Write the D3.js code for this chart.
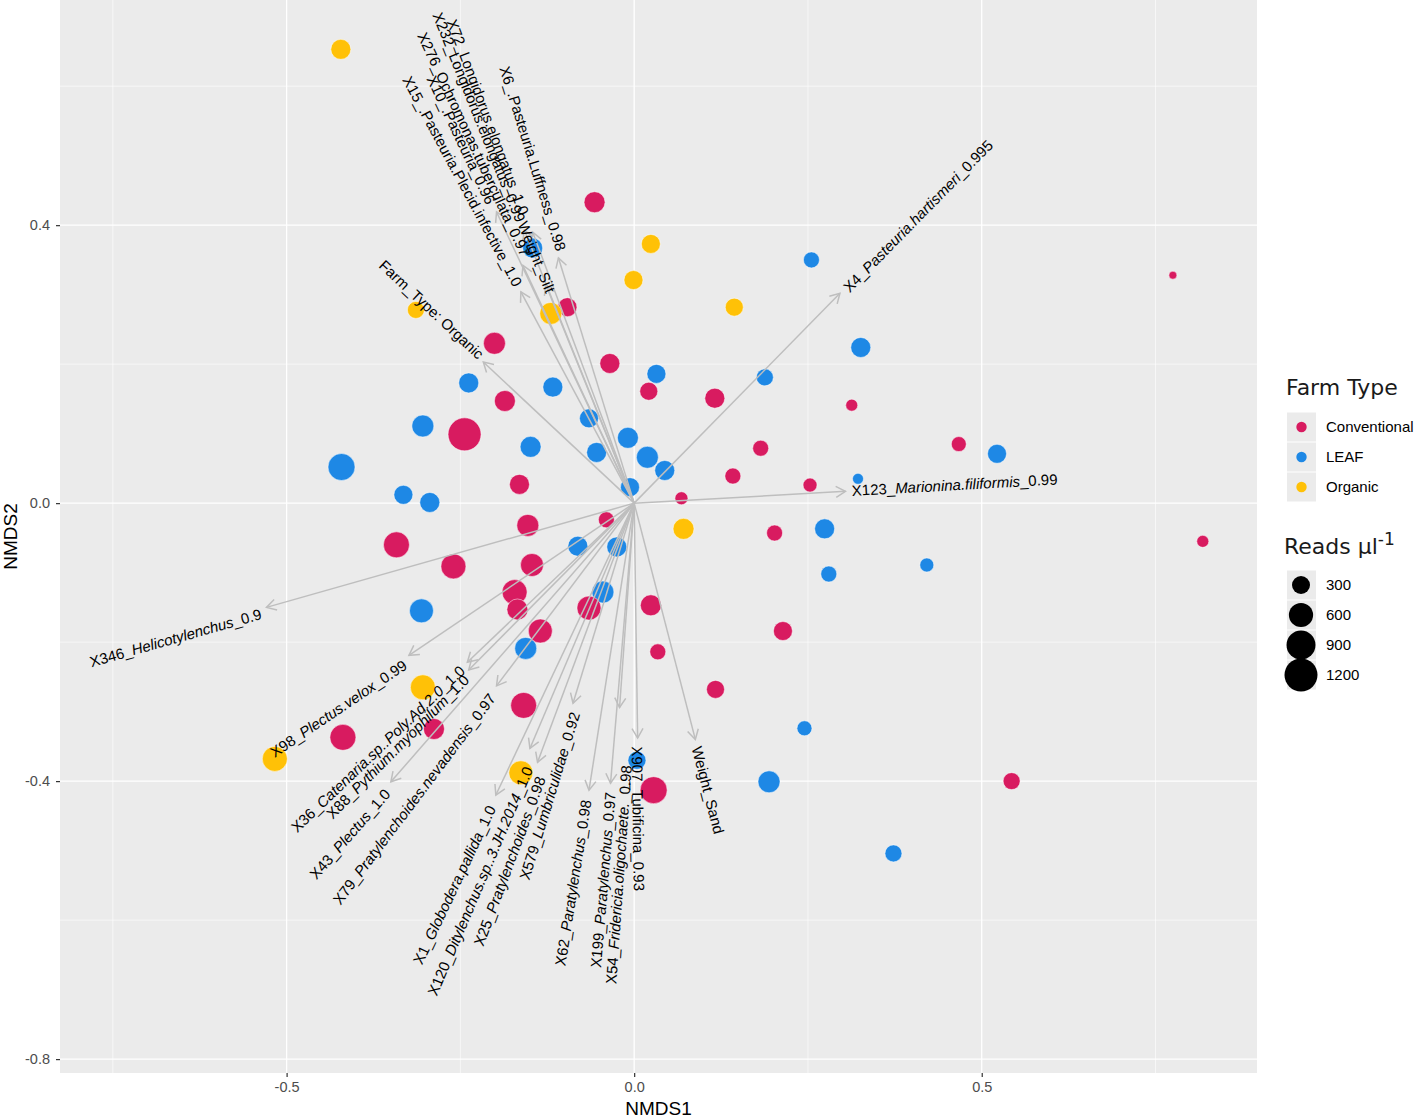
<!DOCTYPE html>
<html>
<head>
<meta charset="utf-8">
<script src="https://cdn.jsdelivr.net/npm/d3@7"></script>
<style>
  body { margin: 0; background: #fff; }
  svg { display: block; }
</style>
</head>
<body>
<div id="chart"></div>
<script>
// NMDS site scores, one set of arrays per farm type
const conventionalX = [-0.057, -0.096, -0.201, -0.035, 0.021, -0.186, 0.116, -0.244, -0.165, 0.182, 0.142, 0.313, 0.467, 0.775, 0.253, 0.068, -0.040, -0.153, 0.202, -0.342, -0.147, -0.260, -0.172, -0.168, -0.065, -0.135, 0.024, 0.214, 0.034, -0.159, 0.117, -0.419, -0.288, 0.028, 0.543, 0.818];
const conventionalY = [0.433, 0.282, 0.230, 0.201, 0.161, 0.147, 0.151, 0.099, 0.027, 0.079, 0.039, 0.141, 0.085, 0.328, 0.026, 0.007, -0.024, -0.032, -0.043, -0.060, -0.089, -0.091, -0.128, -0.153, -0.151, -0.184, -0.147, -0.184, -0.214, -0.291, -0.268, -0.337, -0.325, -0.413, -0.400, -0.055];
const conventionalReads = [432, 341, 481, 385, 300, 432, 385, 1200, 385, 225, 225, 108, 192, 33, 161, 133, 225, 481, 225, 705, 533, 645, 645, 432, 588, 588, 432, 341, 225, 705, 300, 705, 432, 768, 261, 108];

const leafX = [-0.146, 0.255, 0.326, -0.238, -0.117, 0.032, 0.188, -0.065, -0.009, -0.304, -0.421, -0.149, -0.054, 0.019, 0.044, -0.006, -0.332, -0.294, 0.522, 0.322, 0.274, -0.081, -0.025, 0.280, 0.421, -0.045, -0.306, -0.156, 0.245, 0.004, 0.194, 0.373];
const leafY = [0.367, 0.350, 0.224, 0.173, 0.167, 0.186, 0.181, 0.122, 0.094, 0.111, 0.052, 0.081, 0.073, 0.066, 0.047, 0.023, 0.012, 0.001, 0.071, 0.035, -0.037, -0.062, -0.063, -0.102, -0.089, -0.128, -0.155, -0.209, -0.324, -0.370, -0.401, -0.504];
const leafReads = [385, 225, 385, 385, 385, 341, 261, 341, 432, 481, 768, 432, 385, 481, 385, 341, 341, 385, 341, 85, 385, 385, 385, 225, 161, 481, 588, 481, 192, 300, 481, 261];

const organicX = [-0.422, 0.024, -0.001, 0.144, -0.314, -0.120, 0.071, -0.304, -0.517, -0.163];
const organicY = [0.653, 0.373, 0.321, 0.282, 0.278, 0.273, -0.037, -0.265, -0.368, -0.388];
const organicReads = [385, 341, 341, 300, 261, 481, 432, 645, 645, 588];

// fitted vectors (envfit) and where their labels sit
const vectorNames = [
  "X6_.Pasteuria.Luffness_0.98", "X72_Longidorus.elongatus_1.0", "X232_Longidorus.elongatus_0.99",
  "X276_Ochromonas.tuberculata_0.97", "X10_.Pasteuria_0.96", "X15_.Pasteuria.Plecid.infective_1.0",
  "Weight_Silt", "Farm_Type: Organic", "X4_Pasteuria.hartismeri_0.995", "X123_Marionina.filiformis_0.99",
  "X346_Helicotylenchus_0.9", "X98_Plectus.velox_0.99", "X36_Catenaria.sp..Poly.Ad.2.0_1.0",
  "X88_Pythium.myophilum_1.0", "X43_Plectus_1.0", "X79_Pratylenchoides.nevadensis_0.97",
  "X1_Globodera.pallida_1.0", "X120_Ditylenchus.sp..3.JH.2014_1.0", "X25_Pratylenchoides_0.98",
  "X579_Lumbriculidae_0.92", "X62_Paratylenchus_0.98", "X199_Paratylenchus_0.97",
  "X54_Fridericia.oligochaete._0.98", "X907_Tubificina_0.93", "Weight_Sand"
];
const vectorX = [-0.109, -0.146, -0.158, -0.160, -0.198, -0.163, -0.127, -0.217, 0.296, 0.304, -0.529, -0.324, -0.240, -0.238, -0.350, -0.198, -0.199, -0.150, -0.139, -0.088, -0.065, -0.034, -0.021, 0.005, 0.088];
const vectorY = [0.353, 0.390, 0.393, 0.342, 0.419, 0.304, 0.314, 0.203, 0.302, 0.017, -0.150, -0.219, -0.229, -0.240, -0.401, -0.263, -0.420, -0.353, -0.373, -0.288, -0.413, -0.403, -0.294, -0.338, -0.340];
const labelX = [-0.104, -0.157, -0.162, -0.155, -0.205, -0.166, -0.119, -0.219, 0.304, 0.313, -0.537, -0.330, -0.248, -0.242, -0.356, -0.205, -0.206, -0.153, -0.135, -0.086, -0.070, -0.035, -0.012, 0.005, 0.091];
const labelY = [0.364, 0.416, 0.406, 0.357, 0.432, 0.314, 0.304, 0.212, 0.308, 0.019, -0.158, -0.230, -0.237, -0.250, -0.414, -0.276, -0.436, -0.380, -0.394, -0.301, -0.427, -0.416, -0.377, -0.350, -0.350];

const italicNames = ["X4_Pasteuria.hartismeri_0.995", "X123_Marionina.filiformis_0.99", "X346_Helicotylenchus_0.9",
  "X98_Plectus.velox_0.99", "X36_Catenaria.sp..Poly.Ad.2.0_1.0", "X88_Pythium.myophilum_1.0", "X43_Plectus_1.0",
  "X79_Pratylenchoides.nevadensis_0.97", "X1_Globodera.pallida_1.0", "X120_Ditylenchus.sp..3.JH.2014_1.0",
  "X25_Pratylenchoides_0.98", "X579_Lumbriculidae_0.92", "X62_Paratylenchus_0.98", "X199_Paratylenchus_0.97",
  "X54_Fridericia.oligochaete._0.98"];

const xTicks = [-0.5, 0, 0.5];
const yTicks = [-0.8, -0.4, 0, 0.4];
const xMinor = [-0.75, -0.25, 0.25, 0.75];
const yMinor = [-0.6, -0.2, 0.2, 0.6];
const farmTypes = ["Conventional", "LEAF", "Organic"];
const readsBreaks = [300, 600, 900, 1200];

const colors = { Conventional: "#D81B60", LEAF: "#1E88E5", Organic: "#FFC107" };

const W = 1417, H = 1120;
const panel = { left: 60, right: 1257, top: 0, bottom: 1073 };

const svg = d3.select("#chart").append("svg")
  .attr("width", W)
  .attr("height", H)
  .style("font-family", "'Liberation Sans', Arial, sans-serif");

const x = d3.scaleLinear().domain([-0.826, 0.896]).range([panel.left, panel.right]);
const y = d3.scaleLinear().domain([-0.820, 0.724]).range([panel.bottom, panel.top]);
const r = d3.scaleSqrt().domain([0, 1200]).range([1.5, 16.5]);

// panel background and grid
svg.append("rect")
  .attr("x", panel.left).attr("y", panel.top)
  .attr("width", panel.right - panel.left).attr("height", panel.bottom - panel.top)
  .attr("fill", "#EBEBEB");

const grid = svg.append("g");
grid.selectAll("line.xminor").data(xMinor).enter().append("line")
  .attr("x1", d => x(d)).attr("x2", d => x(d)).attr("y1", panel.top).attr("y2", panel.bottom)
  .attr("stroke", "#fff").attr("stroke-width", 0.6);
grid.selectAll("line.yminor").data(yMinor).enter().append("line")
  .attr("y1", d => y(d)).attr("y2", d => y(d)).attr("x1", panel.left).attr("x2", panel.right)
  .attr("stroke", "#fff").attr("stroke-width", 0.6);
grid.selectAll("line.xmajor").data(xTicks).enter().append("line")
  .attr("x1", d => x(d)).attr("x2", d => x(d)).attr("y1", panel.top).attr("y2", panel.bottom)
  .attr("stroke", "#fff").attr("stroke-width", 1.3);
grid.selectAll("line.ymajor").data(yTicks).enter().append("line")
  .attr("y1", d => y(d)).attr("y2", d => y(d)).attr("x1", panel.left).attr("x2", panel.right)
  .attr("stroke", "#fff").attr("stroke-width", 1.3);

// points
function sites(type, xs, ys, reads) {
  return xs.map((v, i) => ({ type: type, x: v, y: ys[i], reads: reads[i] }));
}
const points = [].concat(
  sites("LEAF", leafX, leafY, leafReads),
  sites("Conventional", conventionalX, conventionalY, conventionalReads),
  sites("Organic", organicX, organicY, organicReads)
);

svg.append("g").selectAll("circle")
  .data(points)
  .enter()
  .append("circle")
  .attr("cx", d => x(d.x))
  .attr("cy", d => y(d.y))
  .attr("r", d => r(d.reads))
  .attr("fill", d => colors[d.type])
  .attr("stroke", "#fff")
  .attr("stroke-width", 0.5);

// arrows
const vectors = vectorNames.map((n, i) => ({ name: n, x: vectorX[i], y: vectorY[i], lx: labelX[i], ly: labelY[i] }));
const arrows = svg.append("g")
  .attr("stroke", "#BEBEBE")
  .attr("stroke-width", 1.5)
  .attr("fill", "none");

vectors.forEach(v => {
  const x0 = x(0), y0 = y(0), x1 = x(v.x), y1 = y(v.y);
  const a = Math.atan2(y1 - y0, x1 - x0);
  const len = 11, spread = Math.PI / 6;
  arrows.append("line")
    .attr("x1", x0).attr("y1", y0).attr("x2", x1).attr("y2", y1);
  arrows.append("path")
    .attr("d", `M${x1 - len * Math.cos(a - spread)},${y1 - len * Math.sin(a - spread)}L${x1},${y1}L${x1 - len * Math.cos(a + spread)},${y1 - len * Math.sin(a + spread)}`);
});

// arrow labels
function labelParts(name) {
  if (!italicNames.includes(name)) return [{ t: name, it: false }];
  const i = name.indexOf("_"), j = name.lastIndexOf("_");
  return [{ t: name.slice(0, i + 1), it: false }, { t: name.slice(i + 1, j), it: true }, { t: name.slice(j), it: false }];
}

const labels = svg.append("g");
vectors.forEach(v => {
  const dx = x(v.x) - x(0), dy = y(v.y) - y(0);
  let ang = Math.atan2(dy, dx) * 180 / Math.PI;
  let anchor = "start";
  if (dx < 0) { ang += 180; anchor = "end"; }
  const t = labels.append("text")
    .attr("transform", `translate(${x(v.lx)},${y(v.ly)}) rotate(${ang})`)
    .attr("text-anchor", anchor)
    .attr("dominant-baseline", "central")
    .attr("font-size", 15)
    .attr("fill", "#000");
  labelParts(v.name).forEach(p => {
    t.append("tspan").attr("font-style", p.it ? "italic" : "normal").text(p.t);
  });
});

// axes
const fmt = d => d.toFixed(1);
const xAxis = svg.append("g")
  .attr("transform", `translate(0,${panel.bottom})`)
  .call(d3.axisBottom(x).tickValues(xTicks).tickFormat(fmt).tickSize(4).tickPadding(5));
const yAxis = svg.append("g")
  .attr("transform", `translate(${panel.left},0)`)
  .call(d3.axisLeft(y).tickValues(yTicks).tickFormat(fmt).tickSize(4).tickPadding(6));
[xAxis, yAxis].forEach(g => {
  g.select(".domain").remove();
  g.selectAll(".tick line").attr("stroke", "#333333").attr("stroke-width", 1.2);
  g.selectAll(".tick text").attr("fill", "#4D4D4D").attr("font-size", 14.5)
    .attr("font-family", "'Liberation Sans', Arial, sans-serif");
});

svg.append("text")
  .attr("x", (panel.left + panel.right) / 2)
  .attr("y", 1115)
  .attr("text-anchor", "middle")
  .attr("font-size", 19)
  .text("NMDS1");

svg.append("text")
  .attr("transform", `translate(17,${(panel.top + panel.bottom) / 2}) rotate(-90)`)
  .attr("text-anchor", "middle")
  .attr("font-size", 19)
  .text("NMDS2");

// legend: farm type
const leg = svg.append("g").attr("transform", "translate(1286,0)");
leg.append("text")
  .attr("x", 0).attr("y", 395)
  .attr("font-family", "'DejaVu Sans', Verdana, sans-serif")
  .attr("font-size", 22)
  .attr("fill", "#1a1a1a")
  .text("Farm Type");

const keyY = d3.scaleBand().domain(farmTypes).range([412, 502]);
const keys = leg.selectAll("g.key").data(farmTypes).enter().append("g")
  .attr("transform", d => `translate(0,${keyY(d)})`);
keys.append("rect").attr("x", 1).attr("y", 0.5).attr("width", 29).attr("height", keyY.bandwidth() - 1).attr("fill", "#EBEBEB");
keys.append("circle").attr("cx", 15.5).attr("cy", keyY.bandwidth() / 2).attr("r", 5.2).attr("fill", d => colors[d]);
keys.append("text")
  .attr("x", 40).attr("y", keyY.bandwidth() / 2)
  .attr("dy", "0.36em")
  .attr("font-size", 15)
  .text(d => d);

// legend: reads
const title2 = leg.append("text")
  .attr("x", -2).attr("y", 554)
  .attr("font-family", "'DejaVu Sans', Verdana, sans-serif")
  .attr("font-size", 22)
  .attr("fill", "#1a1a1a");
title2.append("tspan").text("Reads \u00b5l");
title2.append("tspan").attr("dy", -9).attr("font-size", 17).text("-1");

const sizeY = d3.scaleBand().domain(readsBreaks).range([570, 690]);
const skeys = leg.selectAll("g.skey").data(readsBreaks).enter().append("g")
  .attr("transform", d => `translate(0,${sizeY(d)})`);
skeys.append("rect").attr("x", 1).attr("y", 0.5).attr("width", 29).attr("height", sizeY.bandwidth() - 1).attr("fill", "#EBEBEB");
skeys.append("circle").attr("cx", 15).attr("cy", sizeY.bandwidth() / 2).attr("r", d => r(d)).attr("fill", "#000");
skeys.append("text")
  .attr("x", 40).attr("y", sizeY.bandwidth() / 2)
  .attr("dy", "0.36em")
  .attr("font-size", 15)
  .text(d => d);
</script>
</body>
</html>
